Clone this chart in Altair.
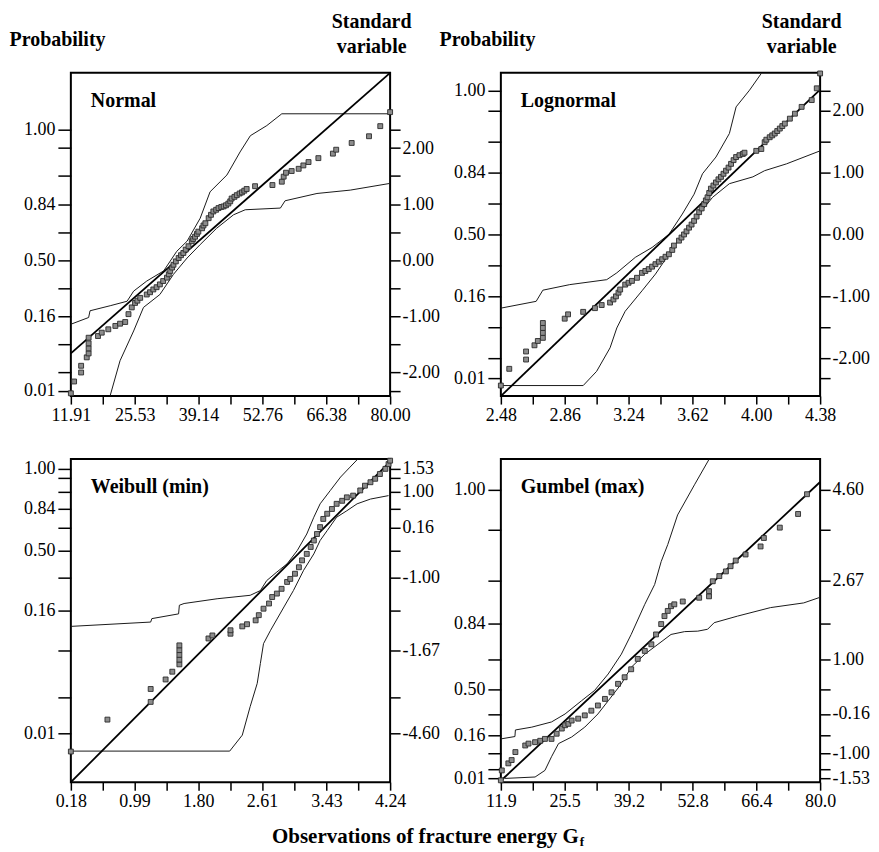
import altair as alt
import pandas as pd

FONT = "Liberation Serif"

# ---------------- Normal ----------------
normal_obs = [11.91, 12.6, 14.1, 14.1, 15.3, 15.7, 15.7, 15.7, 15.7, 17.7, 18.5, 19.9, 21.4, 22.4, 23.5,
              24.2, 24.9, 25.6, 26.1, 26.7, 28.1, 28.8, 29.5, 30.2, 30.9, 31.6, 32.4, 32.8, 33.1, 33.5,
              33.8, 34.3, 34.9, 35.4, 35.9, 36.4, 37.0, 37.7, 38.0, 38.4, 38.8, 39.1, 39.9, 40.2, 40.6,
              41.3, 41.8, 42.3, 42.9, 43.4, 44.0, 44.5, 45.0, 45.5, 45.9, 46.2, 46.8, 47.3, 47.9, 48.4,
              48.9, 49.4, 51.2, 54.9, 56.9, 57.3, 57.8, 59.0, 60.5, 61.5, 62.6, 64.7, 67.8, 68.5, 71.8,
              75.5, 77.9, 80.0]
normal_std = [-2.37, -2.16, -2.00, -1.88, -1.73, -1.66, -1.57, -1.48, -1.38, -1.35, -1.29, -1.23, -1.17, -1.13, -1.10,
              -0.96, -0.84, -0.76, -0.72, -0.67, -0.61, -0.57, -0.52, -0.48, -0.43, -0.37, -0.31, -0.25, -0.19, -0.13,
              -0.08, -0.02, 0.04, 0.09, 0.13, 0.19, 0.25, 0.34, 0.38, 0.42, 0.47, 0.51, 0.57, 0.62, 0.66,
              0.75, 0.81, 0.87, 0.90, 0.93, 0.95, 0.96, 0.98, 1.01, 1.05, 1.10, 1.13, 1.16, 1.19, 1.21,
              1.24, 1.27, 1.32, 1.34, 1.40, 1.49, 1.56, 1.59, 1.63, 1.69, 1.75, 1.82, 1.90, 1.97, 2.09,
              2.21, 2.39, 2.64]
normal_up_x = [11.91, 15.7, 16.0, 20.3, 23.9, 25.3, 28.1, 31.7, 34.5, 36.7, 39.5, 41.6, 45.2, 48.0, 50.2, 53.7, 56.9, 80.0]
normal_up_y = [-1.14, -1.02, -0.90, -0.81, -0.73, -0.55, -0.37, -0.19, 0.16, 0.34, 0.75, 1.22, 1.52, 1.93, 2.22, 2.40, 2.61, 2.61]
normal_lo_x = [20.3, 22.4, 25.3, 27.4, 30.9, 33.8, 36.7, 39.5, 43.0, 46.6, 49.1, 56.6, 57.6, 64.4, 71.5, 80.0]
normal_lo_y = [-2.41, -1.79, -1.26, -0.84, -0.61, -0.25, 0.04, 0.28, 0.57, 0.81, 0.90, 0.93, 1.06, 1.19, 1.25, 1.37]
normal_fit_x = [11.91, 80.0]
normal_fit_y = [-1.66, 3.34]

# ---------------- Lognormal ----------------
lognormal_obs = [2.48, 2.53, 2.63, 2.63, 2.68, 2.70, 2.73, 2.73, 2.73, 2.73, 2.86, 2.88, 2.97, 3.04, 3.08,
                 3.13, 3.15, 3.165, 3.18, 3.19, 3.22, 3.24, 3.26, 3.29, 3.32, 3.34, 3.36, 3.38, 3.40, 3.42,
                 3.44, 3.46, 3.48, 3.50, 3.51, 3.54, 3.555, 3.57, 3.585, 3.60, 3.615, 3.63, 3.645, 3.66, 3.675,
                 3.69, 3.70, 3.71, 3.72, 3.73, 3.745, 3.76, 3.775, 3.79, 3.805, 3.82, 3.835, 3.85, 3.865, 3.88,
                 3.90, 3.92, 3.93, 4.00, 4.03, 4.05, 4.06, 4.08, 4.095, 4.11, 4.125, 4.14, 4.155, 4.17, 4.20,
                 4.23, 4.27, 4.33, 4.36, 4.38]
lognormal_std = [-2.44, -2.17, -2.02, -1.89, -1.79, -1.72, -1.67, -1.59, -1.51, -1.43, -1.36, -1.29, -1.25, -1.19, -1.14,
                 -1.10, -1.05, -1.00, -0.94, -0.89, -0.81, -0.78, -0.75, -0.70, -0.62, -0.59, -0.56, -0.52, -0.48, -0.44,
                 -0.40, -0.36, -0.32, -0.25, -0.18, -0.10, -0.05, 0.00, 0.05, 0.11, 0.16, 0.22, 0.29, 0.36, 0.42,
                 0.49, 0.55, 0.60, 0.67, 0.74, 0.79, 0.84, 0.89, 0.93, 0.98, 1.03, 1.08, 1.14, 1.20, 1.25,
                 1.28, 1.30, 1.32, 1.35, 1.38, 1.49, 1.53, 1.57, 1.60, 1.63, 1.67, 1.71, 1.75, 1.79, 1.87,
                 1.95, 2.06, 2.17, 2.36, 2.60]
lognormal_up_x = [2.48, 2.69, 2.73, 2.89, 3.11, 3.17, 3.28, 3.38, 3.48, 3.56, 3.63, 3.68, 3.76, 3.84, 3.88, 3.96, 4.03]
lognormal_up_y = [-1.19, -1.08, -0.90, -0.81, -0.73, -0.62, -0.37, -0.21, 0.00, 0.33, 0.65, 0.98, 1.25, 1.63, 2.06, 2.33, 2.60]
lognormal_lo_x = [2.48, 2.97, 3.05, 3.13, 3.17, 3.22, 3.32, 3.40, 3.48, 3.56, 3.66, 3.74, 3.84, 3.98, 4.05, 4.18, 4.38]
lognormal_lo_y = [-2.44, -2.44, -2.21, -1.83, -1.51, -1.24, -0.91, -0.64, -0.32, 0.00, 0.33, 0.60, 0.82, 0.93, 1.03, 1.14, 1.35]
lognormal_fit_x = [2.48, 4.38]
lognormal_fit_y = [-2.61, 2.34]

# ---------------- Weibull (min) ----------------
weibull_obs = [0.18, 0.645, 1.195, 1.195, 1.385, 1.47, 1.56, 1.56, 1.56, 1.56, 1.56, 1.93, 1.98, 2.21, 2.21,
               2.36, 2.42, 2.53, 2.57, 2.63, 2.70, 2.74, 2.80, 2.86, 2.93, 2.97, 3.03, 3.08, 3.12, 3.18,
               3.23, 3.27, 3.31, 3.35, 3.39, 3.44, 3.50, 3.56, 3.63, 3.69, 3.77, 3.86, 3.92, 3.99, 4.05,
               4.11, 4.18, 4.22, 4.24]
weibull_std = [-5.02, -4.28, -3.87, -3.57, -3.35, -3.17, -3.00, -2.89, -2.78, -2.67, -2.56, -2.40, -2.33, -2.29, -2.21,
               -2.12, -2.07, -1.98, -1.86, -1.71, -1.59, -1.44, -1.36, -1.25, -1.09, -1.02, -0.90, -0.75, -0.59, -0.44,
               -0.28, -0.13, 0.02, 0.18, 0.37, 0.49, 0.60, 0.72, 0.79, 0.87, 0.91, 1.03, 1.14, 1.22, 1.30,
               1.41, 1.53, 1.64, 1.72]
weibull_up_x = [0.18, 1.195, 1.21, 1.55, 1.56, 1.62, 2.04, 2.46, 2.59, 2.67, 2.80, 2.93, 3.06, 3.18, 3.27, 3.35, 3.48, 3.61, 3.73, 3.82]
weibull_up_y = [-2.12, -2.02, -1.94, -1.83, -1.63, -1.59, -1.48, -1.40, -1.29, -1.06, -0.86, -0.67, -0.36, 0.02, 0.41, 0.72, 1.03, 1.34, 1.57, 1.74]
weibull_lo_x = [0.18, 2.20, 2.36, 2.46, 2.55, 2.59, 2.63, 2.72, 2.89, 3.01, 3.14, 3.27, 3.35, 3.44, 3.56, 3.69, 3.82, 3.99, 4.22]
weibull_lo_y = [-5.01, -5.01, -4.64, -3.98, -3.44, -2.98, -2.52, -2.21, -1.67, -1.29, -0.82, -0.44, -0.13, 0.10, 0.41, 0.56, 0.72, 0.83, 0.91]
weibull_fit_x = [0.18, 4.24]
weibull_fit_y = [-5.73, 1.70]

# ---------------- Gumbel (max) ----------------
gumbel_obs = [11.9, 12.1, 13.5, 14.2, 15.0, 17.1, 17.8, 19.2, 20.3, 21.3, 22.7, 23.8, 24.9, 25.6, 26.3,
              27.0, 28.4, 29.8, 31.2, 32.6, 34.1, 35.5, 36.9, 38.3, 39.7, 41.1, 42.6, 44.0, 45.0, 46.1,
              46.8, 47.5, 48.2, 48.9, 50.7, 54.2, 56.3, 56.3, 57.1, 58.5, 59.9, 60.9, 62.0, 64.1, 67.3,
              68.0, 71.4, 75.3, 77.2]
gumbel_std = [-1.57, -1.36, -1.21, -1.14, -0.97, -0.83, -0.79, -0.76, -0.73, -0.69, -0.69, -0.58, -0.47, -0.40, -0.37,
              -0.30, -0.26, -0.19, -0.09, 0.02, 0.16, 0.30, 0.48, 0.62, 0.79, 1.01, 1.18, 1.32, 1.53, 1.75,
              1.92, 2.03, 2.13, 2.17, 2.23, 2.31, 2.34, 2.45, 2.66, 2.77, 2.87, 2.98, 3.10, 3.23, 3.40,
              3.58, 3.80, 4.09, 4.51]
gumbel_up_x = [11.9, 14.9, 15.0, 18.5, 22.7, 25.6, 29.1, 31.9, 34.8, 37.6, 39.7, 42.6, 44.7, 46.1, 47.5, 49.6, 53.2, 56.3]
gumbel_up_y = [-0.69, -0.64, -0.50, -0.44, -0.33, -0.16, 0.12, 0.34, 0.69, 1.11, 1.53, 2.17, 2.59, 3.08, 3.44, 4.07, 4.71, 5.25]
gumbel_lo_x = [12.8, 19.2, 21.3, 22.7, 24.2, 27.0, 29.8, 32.6, 34.8, 37.6, 39.7, 42.6, 45.4, 48.2, 51.1, 53.9, 56.0, 57.4, 62.4, 69.4, 76.5, 80.0]
gumbel_lo_y = [-1.53, -1.50, -1.36, -1.07, -0.79, -0.65, -0.44, -0.16, 0.12, 0.48, 0.83, 1.11, 1.32, 1.53, 1.59, 1.60, 1.64, 1.78, 1.92, 2.10, 2.20, 2.32]
gumbel_fit_x = [11.9, 80.0]
gumbel_fit_y = [-1.58, 4.77]

# ---------------- axes: ticks and labels ----------------
normal_xticks = [11.91, 18.72, 25.53, 32.335, 39.14, 45.95, 52.76, 59.57, 66.38, 73.19, 80.0]
normal_xlabels = {11.91: "11.91", 25.53: "25.53", 39.14: "39.14", 52.76: "52.76", 66.38: "66.38", 80.0: "80.00"}
lognormal_xticks = [2.48, 2.67, 2.86, 3.05, 3.24, 3.43, 3.62, 3.81, 4.00, 4.19, 4.38]
lognormal_xlabels = {2.48: "2.48", 2.86: "2.86", 3.24: "3.24", 3.62: "3.62", 4.00: "4.00", 4.38: "4.38"}
weibull_xticks = [0.18, 0.585, 0.99, 1.395, 1.80, 2.205, 2.61, 3.02, 3.43, 3.835, 4.24]
weibull_xlabels = {0.18: "0.18", 0.99: "0.99", 1.80: "1.80", 2.61: "2.61", 3.43: "3.43", 4.24: "4.24"}
gumbel_xticks = [11.9, 18.7, 25.5, 32.35, 39.2, 46.0, 52.8, 59.6, 66.4, 73.2, 80.0]
gumbel_xlabels = {11.9: "11.9", 25.5: "25.5", 39.2: "39.2", 52.8: "52.8", 66.4: "66.4", 80.0: "80.0"}

normal_yticks = [2.326, 2.0, 1.5, 1.0, 0.5, 0.0, -0.5, -1.0, -1.5, -2.0, -2.326]
normal_left = {2.326: "1.00", 1.0: "0.84", 0.0: "0.50", -1.0: "0.16", -2.326: "0.01"}
normal_right = {2.0: "2.00", 1.0: "1.00", 0.0: "0.00", -1.0: "-1.00", -2.0: "-2.00"}
lognormal_yticks = normal_yticks
lognormal_left = normal_left
lognormal_right = normal_right
weibull_yticks = [1.527, 1.328, 0.994, 0.609, 0.161, -0.367, -0.995, -1.753, -2.669, -3.760, -4.600]
weibull_left = {1.527: "1.00", 0.609: "0.84", -0.367: "0.50", -1.753: "0.16", -4.600: "0.01"}
weibull_right = {1.527: "1.53", 0.994: "1.00", 0.161: "0.16", -0.995: "-1.00", -2.669: "-1.67", -4.600: "-4.60"}
gumbel_yticks = [4.600, 3.760, 2.669, 1.753, 0.995, 0.367, -0.161, -0.609, -0.994, -1.328, -1.527]
gumbel_left = {4.600: "1.00", 1.753: "0.84", 0.367: "0.50", -0.609: "0.16", -1.527: "0.01"}
gumbel_right = {4.600: "4.60", 2.669: "2.67", 0.995: "1.00", -0.161: "-0.16", -0.994: "-1.00", -1.527: "-1.53"}

W, H = 320, 324
LABEL_SIZE = 18


def label_expr(mapping):
    expr = "''"
    for v, s in reversed(list(mapping.items())):
        expr = f"abs(datum.value - ({v})) < 1e-6 ? '{s}' : " + expr
    return expr


def panel(name, obs, std, up_x, up_y, lo_x, lo_y, fit_x, fit_y,
          xdom, ydom, xticks, xlabels, yticks, left_labels, right_labels, top, extra=None):
    common = dict(domain=False, grid=False, tickColor="black", tickWidth=1.5,
                  labelFont=FONT, labelFontSize=LABEL_SIZE, labelColor="black",
                  labelOverlap=False)
    xaxis = alt.Axis(values=xticks, labelExpr=label_expr(xlabels), tickSize=8,
                     labelPadding=2, labelFlush=False, title=None, **common)
    left_kw = dict(orient="left", values=yticks, labelExpr=label_expr(left_labels),
                   tickSize=13, labelPadding=3, labelFlush=False, **common)
    right_kw = dict(orient="right", values=yticks, labelExpr=label_expr(right_labels),
                    tickSize=10, labelPadding=2, labelFlush=False, **common)
    if top:
        left_kw.update(title="Probability", titleAngle=0, titleAlign="left",
                       titleBaseline="alphabetic", titleX=-62, titleY=-27,
                       titleFont=FONT, titleFontSize=20, titleFontWeight="bold",
                       titleColor="black")
        right_kw.update(title=["Standard", "variable"], titleAngle=0, titleAlign="center",
                        titleBaseline="alphabetic", titleX=-19, titleY=-45,
                        titleLineHeight=25,
                        titleFont=FONT, titleFontSize=20, titleFontWeight="bold",
                        titleColor="black")
    else:
        left_kw.update(title=None)
        right_kw.update(title=None)

    xs = alt.Scale(domain=xdom, nice=False, zero=False)
    ys = alt.Scale(domain=ydom, nice=False, zero=False)

    env = pd.DataFrame({
        "x": list(up_x) + list(lo_x),
        "y": list(up_y) + list(lo_y),
        "band": ["upper"] * len(up_x) + ["lower"] * len(lo_x),
        "o": list(range(len(up_x))) + list(range(len(lo_x))),
    })
    fit = pd.DataFrame({"x": fit_x, "y": fit_y})
    pts = pd.DataFrame({"x": obs, "y": std})

    env_layer = alt.Chart(env).mark_line(color="#1a1a1a", strokeWidth=1).encode(
        x=alt.X("x:Q", scale=xs, axis=xaxis),
        y=alt.Y("y:Q", scale=ys, axis=alt.Axis(**left_kw)),
        detail="band:N",
        order="o:Q",
    )
    fit_layer = alt.Chart(fit).mark_line(color="black", strokeWidth=1.8).encode(
        x=alt.X("x:Q", scale=xs, axis=xaxis),
        y=alt.Y("y:Q", scale=ys, axis=alt.Axis(**right_kw)),
    )
    pt_layer = alt.Chart(pts).mark_square(size=24, fill="#8c8c8c", stroke="#2a2a2a",
                                          strokeWidth=0.9, opacity=1).encode(
        x=alt.X("x:Q", scale=xs, axis=xaxis),
        y=alt.Y("y:Q", scale=ys, axis=None),
    )
    name_layer = alt.Chart(pd.DataFrame({"t": [name]})).mark_text(
        font=FONT, fontSize=20, fontWeight="bold", align="left", baseline="alphabetic",
        color="black").encode(text="t:N", x=alt.value(20), y=alt.value(34))
    layers = [env_layer, fit_layer, pt_layer, name_layer]
    if extra is not None:
        layers += extra
    return alt.layer(*layers).resolve_axis(y="independent").properties(width=W, height=H)


xtitle_main = ["Observations of fracture energy G"]
xtitle_sub = ["f"]
xtitle_layers = [
    alt.Chart(pd.DataFrame({"t": xtitle_main})).mark_text(
        font=FONT, fontSize=21, fontWeight="bold", align="right", baseline="alphabetic",
        color="black").encode(text="t:N", x=alt.value(509), y=alt.value(385)),
    alt.Chart(pd.DataFrame({"t": xtitle_sub})).mark_text(
        font=FONT, fontSize=13, fontWeight="bold", align="left", baseline="alphabetic",
        color="black").encode(text="t:N", x=alt.value(510), y=alt.value(388)),
]

p1 = panel("Normal", normal_obs, normal_std, normal_up_x, normal_up_y, normal_lo_x, normal_lo_y,
           normal_fit_x, normal_fit_y, [11.91, 80.0], [-2.42, 3.34],
           normal_xticks, normal_xlabels, normal_yticks, normal_left, normal_right, True)
p2 = panel("Lognormal", lognormal_obs, lognormal_std, lognormal_up_x, lognormal_up_y,
           lognormal_lo_x, lognormal_lo_y, lognormal_fit_x, lognormal_fit_y,
           [2.48, 4.38], [-2.61, 2.61],
           lognormal_xticks, lognormal_xlabels, lognormal_yticks, lognormal_left, lognormal_right, True)
p3 = panel("Weibull (min)", weibull_obs, weibull_std, weibull_up_x, weibull_up_y,
           weibull_lo_x, weibull_lo_y, weibull_fit_x, weibull_fit_y,
           [0.18, 4.24], [-5.73, 1.76],
           weibull_xticks, weibull_xlabels, weibull_yticks, weibull_left, weibull_right, False,
           extra=xtitle_layers)
p4 = panel("Gumbel (max)", gumbel_obs, gumbel_std, gumbel_up_x, gumbel_up_y,
           gumbel_lo_x, gumbel_lo_y, gumbel_fit_x, gumbel_fit_y,
           [11.9, 80.0], [-1.61, 5.26],
           gumbel_xticks, gumbel_xlabels, gumbel_yticks, gumbel_left, gumbel_right, False)

chart = alt.concat(p1, p2, p3, p4, columns=2, spacing={"row": 63, "column": 111}, bounds="flush").properties(
    padding={"left": 0, "top": 2, "right": 0, "bottom": 0},
    background="white",
).configure_view(stroke="black", strokeWidth=2)

chart.save("out.html", embed_options={"renderer": "svg", "actions": False})
